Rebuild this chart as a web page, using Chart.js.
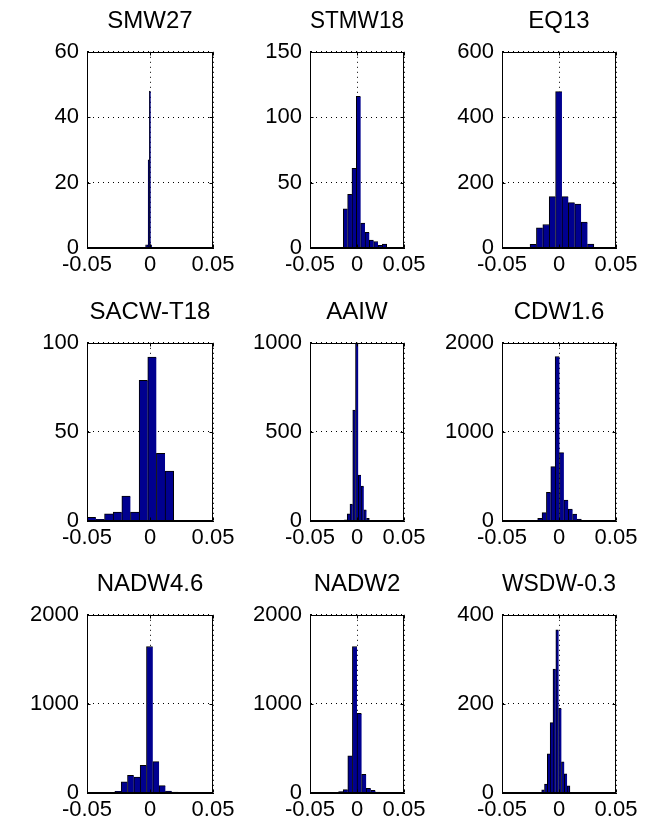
<!DOCTYPE html>
<html>
<head>
<meta charset="utf-8">
<script src="https://cdn.jsdelivr.net/npm/chart.js@4.4.1/dist/chart.umd.min.js"></script>
<style>
  body { margin: 0; background: #fff; }
  #fig { position: relative; width: 656px; height: 831px; overflow: hidden; background: #fff; }
  #fig canvas { position: absolute; }
</style>
</head>
<body>
<div id="fig"></div>
<script>
// one histogram per water mass, 10 bins each
const titles = ['SMW27', 'STMW18', 'EQ13', 'SACW-T18', 'AAIW', 'CDW1.6', 'NADW4.6', 'NADW2', 'WSDW-0.3'];

// bin counts
const smw27   = [0, 0, 1, 1, 27, 48, 1, 0, 0, 0];
const stmw18  = [30, 41, 61, 116, 19, 12, 6, 5, 2, 3];
const eq13    = [11, 62, 72, 157, 478, 157, 139, 134, 79, 12];
const sacwT18 = [2, 1, 4, 5, 14, 5, 79, 92, 38, 28];
const aaiw    = [2, 6, 40, 95, 622, 1000, 258, 196, 62, 15];
const cdw16   = [30, 94, 322, 610, 1846, 768, 236, 135, 79, 22];
const nadw46  = [20, 124, 199, 180, 311, 1644, 352, 82, 22, 11];
const nadw2   = [7, 15, 37, 416, 1644, 895, 210, 52, 30, 11];
const wsdw03  = [7, 20, 88, 158, 278, 366, 190, 70, 43, 16];
const counts = [smw27, stmw18, eq13, sacwT18, aaiw, cdw16, nadw46, nadw2, wsdw03];

// range covered by the bins (data min / max)
const binLo = [-0.0055, -0.0146, -0.0254, -0.0498, -0.0163, -0.0187, -0.0279, -0.0245, -0.0152];
const binHi = [ 0.0045,  0.0316,  0.0306,  0.0188,  0.0131,  0.0196,  0.0223,  0.0245,  0.0096];

// axis limits and ticks
const xTicks = [-0.05, 0, 0.05];
const yMax  = [60, 150, 600, 100, 1000, 2000, 2000, 2000, 400];
const yStep = [20, 50, 200, 50, 500, 1000, 1000, 1000, 200];

// subplot boxes
const colL = [87, 310, 502], colR = [213, 404, 616];
const rowT = [52, 343, 615], rowB = [248, 521, 793];
const padL = 60, padR = 30, padT = 45, padB = 32;

const FONT = '"Liberation Sans", Arial, Helvetica, sans-serif';

// axes box on top, with short inward tick marks on all four sides
const boxPlugin = {
  id: 'axbox',
  afterDatasetsDraw(chart) {
    const a = chart.chartArea, c = chart.ctx;
    const L = Math.round(a.left) + 0.5, T = Math.round(a.top) + 0.5;
    const R = Math.round(a.right) - 0.5, B = Math.round(a.bottom) - 0.5;
    const tl = 3;
    c.save();
    c.strokeStyle = '#000';
    c.lineWidth = 1;
    c.strokeRect(L, T, R - L, B - T);
    c.beginPath();
    chart.scales.x.ticks.forEach(t => {
      const px = Math.round(chart.scales.x.getPixelForValue(t.value)) + 0.5;
      c.moveTo(px, B); c.lineTo(px, B - tl);
      c.moveTo(px, T); c.lineTo(px, T + tl);
    });
    chart.scales.y.ticks.forEach(t => {
      const py = Math.round(chart.scales.y.getPixelForValue(t.value)) + 0.5;
      c.moveTo(L, py); c.lineTo(L + tl, py);
      c.moveTo(R, py); c.lineTo(R - tl, py);
    });
    c.stroke();
    c.restore();
  }
};

const fig = document.getElementById('fig');

titles.forEach((name, k) => {
  const r = Math.floor(k / 3), col = k % 3;
  const w = colR[col] - colL[col], h = rowB[r] - rowT[r];
  const cv = document.createElement('canvas');
  cv.width = w + padL + padR;
  cv.height = h + padT + padB;
  cv.style.left = (colL[col] - padL) + 'px';
  cv.style.top = (rowT[r] - padT) + 'px';
  fig.appendChild(cv);

  const n = counts[k].length;
  const bw = (binHi[k] - binLo[k]) / n;
  const pts = counts[k].map((y, i) => ({ x: binLo[k] + (i + 0.5) * bw, y: y }));

  new Chart(cv, {
    type: 'bar',
    data: {
      datasets: [{
        data: pts,
        backgroundColor: '#00008f',
        borderColor: '#000',
        borderWidth: ctx => ({ top: 1, left: 1, bottom: 0, right: ctx.dataIndex === n - 1 ? 1 : 0 }),
        borderSkipped: false,
        barPercentage: 1,
        categoryPercentage: 1
      }]
    },
    options: {
      responsive: false,
      animation: false,
      devicePixelRatio: 1,
      layout: { padding: { left: 0, right: padR, top: 0, bottom: 0 } },
      plugins: {
        legend: { display: false },
        tooltip: { enabled: false },
        title: {
          display: true,
          text: name,
          fullSize: false,
          color: '#000',
          font: { family: FONT, size: 24, weight: 'normal', lineHeight: 1.2 },
          padding: { top: 0, bottom: 16 }
        }
      },
      scales: {
        x: {
          type: 'linear',
          offset: false,
          min: xTicks[0],
          max: xTicks[xTicks.length - 1],
          afterBuildTicks: s => { s.ticks = xTicks.map(v => ({ value: v })); },
          afterFit: s => { s.height = padB; },
          ticks: {
            color: '#000',
            padding: 4,
            maxRotation: 0,
            autoSkip: false,
            font: { family: FONT, size: 22 },
            callback: v => (Math.abs(v) < 1e-9 ? '0' : String(+v.toFixed(2)))
          },
          grid: { color: '#000', lineWidth: 1, drawTicks: false, offset: false },
          border: { color: '#000', dash: [1, 4] }
        },
        y: {
          min: 0,
          max: yMax[k],
          afterFit: s => { s.width = padL; },
          ticks: {
            stepSize: yStep[k],
            color: '#000',
            padding: 8,
            font: { family: FONT, size: 22 },
            callback: v => String(v)
          },
          grid: { color: '#000', lineWidth: 1, drawTicks: false },
          border: { color: '#000', dash: [1, 4] }
        }
      }
    },
    plugins: [boxPlugin]
  });
});
</script>
</body>
</html>
